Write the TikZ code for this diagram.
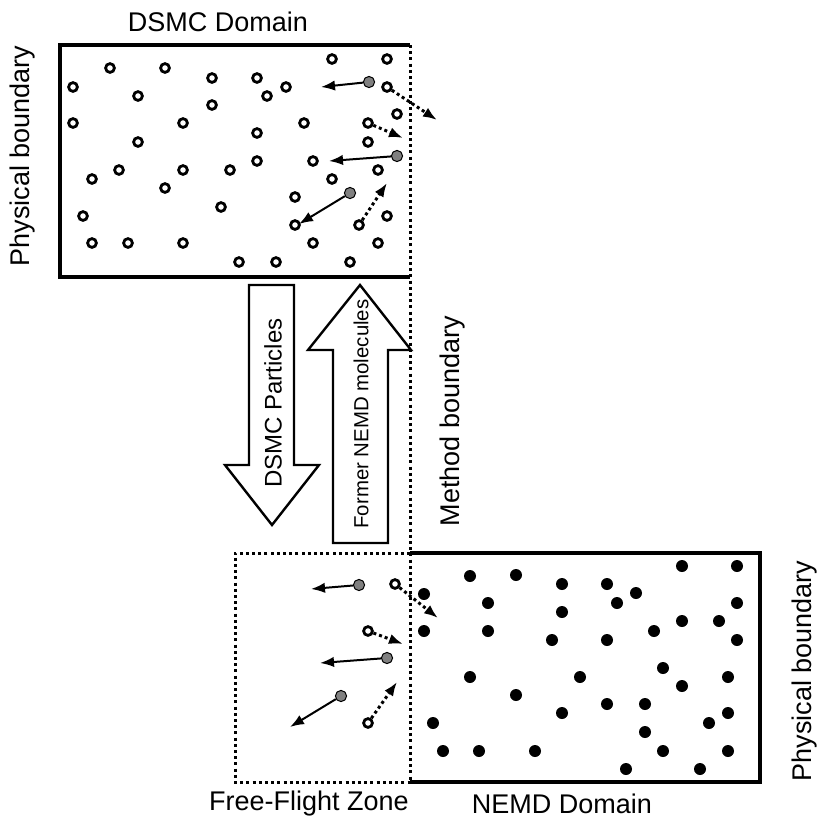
\documentclass[tikz,border=0pt]{standalone}
\usepackage{fontspec}
\setmainfont{Liberation Sans}
\usetikzlibrary{arrows.meta}

\begin{document}
\begin{tikzpicture}[x=0.5pt,y=-0.5pt,
  wall/.style={line width=1.7pt},
  dotline/.style={line width=1.5pt,dash pattern=on 1.5pt off 1.6pt},
  hollow/.style={circle,draw,line width=1.4pt,inner sep=0pt,minimum size=4.4pt},
  solid dot/.style={circle,fill=black,inner sep=0pt,minimum size=6pt},
  grey dot/.style={circle,draw,fill=gray,line width=0.5pt,inner sep=0pt,minimum size=5.6pt},
  mv/.style={-{Latex[length=7pt,width=5.2pt]},line width=1pt},
  hop/.style={-{Latex[length=7pt,width=5.2pt]},line width=1.5pt,dash pattern=on 1.5pt off 1.5pt},
  big/.style={draw,line width=1.2pt,fill=white,line join=miter},
  lbl/.style={font=\fontsize{13.5}{16}\selectfont}]
  \useasboundingbox (0,0) rectangle (821,820);
  % domains
  \draw[wall] (410,45)--(60,45)--(60,277)--(410,277);
  \draw[wall] (410,553)--(760,553)--(760,782)--(410,782);
  \draw[dotline] (410,553)--(235,553)--(235,782)--(410,782);
  \draw[dotline] (410,45)--(410,783);
  % DSMC particles
  \foreach \x/\y in {332/59,387/59,110/68,165/68,212/78,257/78,73/87,286/87,138/96,267/96,
    212/105,397/114,73/123,183/123,304/123,257/133,138/142,368/142,257/161,313/161,
    119/170,183/170,230/170,378/170,92/179,332/179,165/188,295/197,221/207,83/216,
    387/216,295/225,92/243,128/243,183/243,313/243,378/243,239/262,276/262,350/262}
    \node[hollow] at (\x,\y) {};
  % NEMD molecules
  \foreach \x/\y in {424/594,424/631,470/576,488/603,488/631,470/677,433/723,443/751,479/751,516/575,
    516/695,562/584,607/584,636/593,617/603,682/566,737/566,737/603,562/612,682/621,
    719/621,654/631,552/640,607/640,737/640,663/668,580/677,728/677,682/686,607/704,
    645/704,562/713,728/713,709/723,645/732,535/751,663/751,728/751,626/769,700/769}
    \node[solid dot] at (\x,\y) {};
  % crossings, top
  \node[grey dot] (ga) at (369,82) {};
  \coordinate (gae) at (321,87);
  \draw[mv] (ga)--(gae);
  \node[grey dot] (gb) at (397,156) {};
  \coordinate (gbe) at (329,161);
  \draw[mv] (gb)--(gbe);
  \node[grey dot] (gc) at (350,193) {};
  \coordinate (gce) at (299,224);
  \draw[mv] (gc)--(gce);
  \node[hollow] (ha) at (387,87) {};
  \coordinate (hae) at (437,120);
  \draw[hop] (ha)--(hae);
  \node[hollow] (hb) at (368,123) {};
  \coordinate (hbe) at (403,138);
  \draw[hop] (hb)--(hbe);
  \node[hollow] (hc) at (359,225) {};
  \coordinate (hce) at (387,183);
  \draw[hop] (hc)--(hce);
  % crossings, bottom
  \node[grey dot] (gd) at (359,585) {};
  \coordinate (gde) at (311,589);
  \draw[mv] (gd)--(gde);
  \node[grey dot] (ge) at (387,658) {};
  \coordinate (gee) at (320,663);
  \draw[mv] (ge)--(gee);
  \node[grey dot] (gf) at (341,696) {};
  \coordinate (gfe) at (290,727);
  \draw[mv] (gf)--(gfe);
  \node[hollow] (hd) at (395,584) {};
  \coordinate (hde) at (438,618);
  \draw[hop] (hd)--(hde);
  \node[hollow] (he) at (368,631) {};
  \coordinate (hee) at (403,644);
  \draw[hop] (he)--(hee);
  \node[hollow] (hf) at (368,723) {};
  \coordinate (hfe) at (397,682);
  \draw[hop] (hf)--(hfe);
  % transfer arrows
  \draw[big] (249,285)--(294,285)--(294,465)--(319,465)--(272,525)--(225,465)--(249,465)--cycle;
  \draw[big] (333,543)--(388,543)--(388,350)--(411,350)--(360,285)--(308,350)--(333,350)--cycle;
  \node[rotate=90,font=\fontsize{12}{14}\selectfont] (down) at (273,403) {DSMC Particles};
  \node[rotate=90,font=\fontsize{10.2}{12}\selectfont] (up) at (361,414) {Former NEMD molecules};
  % labels
  \node[lbl] (dsmc) at (218,22) {DSMC Domain};
  \node[lbl] (ffz) at (309,804) {Free-Flight Zone};
  \node[lbl] (nemd) at (562,804) {NEMD Domain};
  \node[lbl,rotate=90] (pbl) at (23,156) {Physical boundary};
  \node[lbl,rotate=90] (pbr) at (805,671) {Physical boundary};
  \node[lbl,rotate=90] (mb) at (453,421) {Method boundary};
\end{tikzpicture}
\end{document}
